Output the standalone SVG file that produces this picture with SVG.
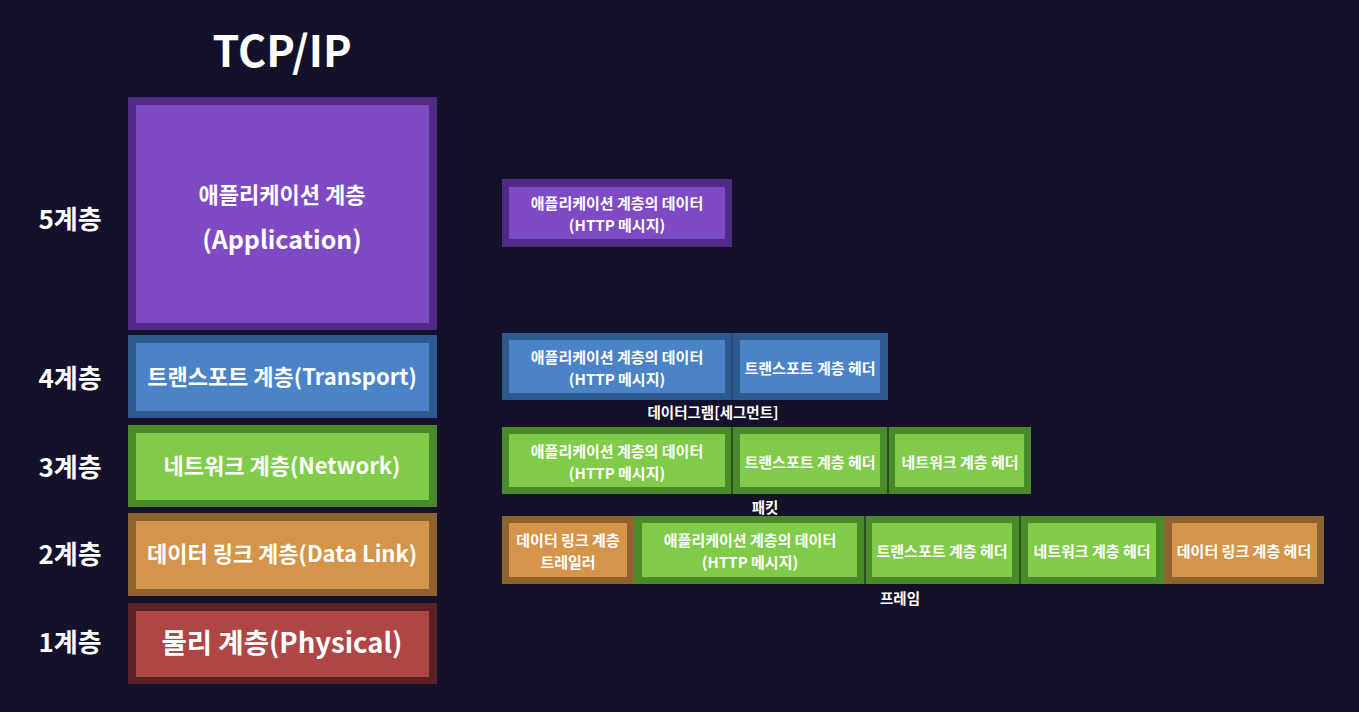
<svg xmlns="http://www.w3.org/2000/svg" width="1359" height="712" viewBox="0 0 1359 712">
<style>
text{font-family:"Noto Sans CJK KR","Noto Sans",sans-serif;font-weight:bold;fill:#ffffff;text-anchor:middle;dominant-baseline:central}
.big{font-size:22px}
.lbl{font-size:26px}
.sm{font-size:15px}
.cap{font-size:14.5px}
.po{fill:#4f2a86}.pi{fill:#7f4bc4}
.bo{fill:#2c5a8e}.bi{fill:#4a84c6}
.go{fill:#4a8a28}.gi{fill:#80cc4a}
.oo{fill:#8f6330}.oi{fill:#d4954a}
.ro{fill:#5a2228}.ri{fill:#b04545}
.div{stroke:#1f3a20;stroke-width:1.5}
</style>
<rect width="1359" height="712" fill="#14122a"/>
<text x="282" y="48" style="font-size:43px">TCP/IP</text>

<g id="labels">
<text class="lbl" x="70" y="217">5계층</text>
<text class="lbl" x="70" y="376">4계층</text>
<text class="lbl" x="70" y="465">3계층</text>
<text class="lbl" x="70" y="552">2계층</text>
<text class="lbl" x="70" y="640">1계층</text>
</g>

<g id="layer5">
<rect class="po" x="128" y="97" width="309" height="233"/>
<rect class="pi" x="136" y="105" width="293" height="218"/>
<text class="big" x="282" y="193">애플리케이션 계층</text>
<text x="282" y="238" style="font-size:25px">(Application)</text>
</g>
<g id="layer4">
<rect class="bo" x="128" y="335" width="309" height="83"/>
<rect class="bi" x="136" y="343" width="293" height="68"/>
<text class="big" x="282" y="375">트랜스포트 계층(Transport)</text>
</g>
<g id="layer3">
<rect class="go" x="128" y="425" width="309" height="82"/>
<rect class="gi" x="136" y="433" width="293" height="67"/>
<text class="big" x="282" y="464">네트워크 계층(Network)</text>
</g>
<g id="layer2">
<rect class="oo" x="128" y="513" width="309" height="83"/>
<rect class="oi" x="136" y="521" width="293" height="68"/>
<text class="big" x="282" y="552">데이터 링크 계층(Data Link)</text>
</g>
<g id="layer1">
<rect class="ro" x="128" y="603" width="309" height="81"/>
<rect class="ri" x="136" y="611" width="293" height="66"/>
<text x="282" y="641" style="font-size:27.5px">물리 계층(Physical)</text>
</g>

<g id="msg-app">
<rect class="po" x="502" y="179" width="230" height="68"/>
<rect class="pi" x="509" y="187" width="216" height="52"/>
<text class="sm" x="617" y="202">애플리케이션 계층의 데이터</text>
<text class="sm" x="617" y="224">(HTTP 메시지)</text>
</g>

<g id="msg-transport">
<rect class="bo" x="502" y="333" width="230" height="67"/>
<rect class="bi" x="509" y="340" width="216" height="53"/>
<text class="sm" x="617" y="356">애플리케이션 계층의 데이터</text>
<text class="sm" x="617" y="378">(HTTP 메시지)</text>
<rect class="bo" x="732" y="333" width="156" height="67"/>
<rect class="bi" x="740" y="340" width="140" height="53"/>
<text class="sm" x="810" y="367">트랜스포트 계층 헤더</text>
<line x1="732" y1="333" x2="732" y2="400" stroke="#244a74" stroke-width="1.5"/>
<text class="cap" x="713" y="411">데이터그램[세그먼트]</text>
</g>

<g id="msg-network">
<rect class="go" x="502" y="427" width="230" height="67"/>
<rect class="gi" x="509" y="434" width="216" height="53"/>
<text class="sm" x="617" y="450">애플리케이션 계층의 데이터</text>
<text class="sm" x="617" y="472">(HTTP 메시지)</text>
<rect class="go" x="732" y="427" width="156" height="67"/>
<rect class="gi" x="740" y="434" width="140" height="53"/>
<text class="sm" x="810" y="461">트랜스포트 계층 헤더</text>
<rect class="go" x="888" y="427" width="143" height="67"/>
<rect class="gi" x="895" y="434" width="129" height="53"/>
<text class="sm" x="960" y="461">네트워크 계층 헤더</text>
<line class="div" x1="732" y1="427" x2="732" y2="494"/>
<line class="div" x1="888" y1="427" x2="888" y2="494"/>
<text class="cap" x="765" y="506">패킷</text>
</g>

<g id="msg-frame">
<rect class="oo" x="502" y="516" width="132" height="68"/>
<rect class="oi" x="509" y="523" width="118" height="54"/>
<text class="sm" x="568" y="539">데이터 링크 계층</text>
<text class="sm" x="568" y="561">트레일러</text>
<rect class="go" x="634" y="516" width="231" height="68"/>
<rect class="gi" x="642" y="523" width="215" height="54"/>
<text class="sm" x="750" y="539">애플리케이션 계층의 데이터</text>
<text class="sm" x="750" y="561">(HTTP 메시지)</text>
<rect class="go" x="865" y="516" width="155" height="68"/>
<rect class="gi" x="872" y="523" width="140" height="54"/>
<text class="sm" x="942" y="550">트랜스포트 계층 헤더</text>
<rect class="go" x="1020" y="516" width="144" height="68"/>
<rect class="gi" x="1028" y="523" width="128" height="54"/>
<text class="sm" x="1092" y="550">네트워크 계층 헤더</text>
<rect class="oo" x="1164" y="516" width="160" height="68"/>
<rect class="oi" x="1172" y="523" width="145" height="54"/>
<text class="sm" x="1244" y="550">데이터 링크 계층 헤더</text>
<line class="div" x1="865" y1="516" x2="865" y2="584"/>
<line class="div" x1="1020" y1="516" x2="1020" y2="584"/>
<text class="cap" x="900" y="597">프레임</text>
</g>
</svg>
